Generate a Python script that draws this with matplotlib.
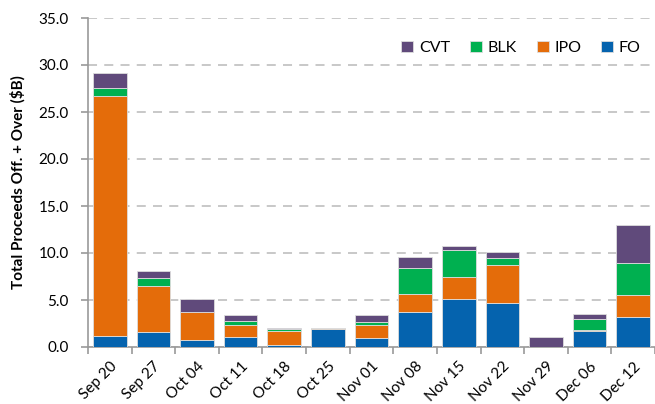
import matplotlib
matplotlib.use("Agg")
import matplotlib.pyplot as plt
import numpy as np

weeks = ["Sep 20", "Sep 27", "Oct 04", "Oct 11", "Oct 18", "Oct 25", "Nov 01",
         "Nov 08", "Nov 15", "Nov 22", "Nov 29", "Dec 06", "Dec 12"]

# values in $B, stacked bottom to top: FO, IPO, BLK, CVT
fo = [1.17, 1.63, 0.78, 1.10, 0.25, 1.88, 0.99, 3.73, 5.11, 4.72, 0.00, 1.67, 3.23]
ipo = [25.49, 4.83, 2.91, 1.21, 1.49, 0.18, 1.35, 1.91, 2.31, 3.98, 0.00, 0.14, 2.31]
blk = [0.94, 0.89, 0.03, 0.46, 0.14, 0.00, 0.36, 2.77, 2.88, 0.81, 0.00, 1.17, 3.41]
cvt = [1.60, 0.75, 1.36, 0.67, 0.18, 0.00, 0.67, 1.17, 0.46, 0.61, 1.10, 0.50, 4.04]

colors = {"FO": "#0563AE", "IPO": "#E46C0A", "BLK": "#00B050", "CVT": "#604A7B"}

plt.rcParams["font.family"] = ["Lato", "DejaVu Sans"]

fig = plt.figure(figsize=(6.55, 4.04), dpi=100)
ax = fig.add_axes([88 / 655, 57 / 404, 567 / 655, 329 / 404])

x = np.arange(len(weeks))
bottom = np.zeros(len(weeks))
bars = {}
for name, vals in (("FO", fo), ("IPO", ipo), ("BLK", blk), ("CVT", cvt)):
    vals = np.array(vals)
    bars[name] = ax.bar(x, vals, 0.77, bottom=bottom, color=colors[name],
                        edgecolor="#dddddd", linewidth=0.6, zorder=3)
    bottom += vals

ax.set_ylim(0, 35)
ax.set_yticks(np.arange(0, 35.1, 5))
ax.set_yticklabels([f"{v:.1f}" for v in np.arange(0, 35.1, 5)], fontsize=11)
ax.set_xlim(-0.5, -0.5 + 567 / 44)

ax.set_xticks(x)
ax.set_xticklabels(weeks, rotation=45, ha="right", rotation_mode="anchor", fontsize=11)
ax.tick_params(axis="x", length=0, pad=9)
ax.set_xticks(np.arange(-0.5, len(weeks), 1), minor=True)
ax.tick_params(axis="x", which="minor", length=5, color="#999999", width=1.2)
ax.tick_params(axis="y", length=5, color="#999999", width=1.2, pad=9)

ax.yaxis.grid(True, linestyle=(0, (5, 4)), color="#c4c4c4", linewidth=1.3, zorder=0)
ax.set_axisbelow(True)
for s in ("top", "right"):
    ax.spines[s].set_visible(False)
for s in ("left", "bottom"):
    ax.spines[s].set_color("#999999")
    ax.spines[s].set_linewidth(1.2)

ax.set_ylabel("Total Proceeds Off. + Over ($B)", fontsize=11, fontweight="bold", labelpad=9)

handles = [bars[n] for n in ("CVT", "BLK", "IPO", "FO")]
ax.legend(handles, ["CVT", "BLK", "IPO", "FO"], ncol=4, loc="upper right",
          bbox_to_anchor=(1.0, 0.975), frameon=False, fontsize=11.5,
          handlelength=0.75, handleheight=0.75, columnspacing=1.25, handletextpad=0.35)

fig.savefig("out.png", dpi=100)
